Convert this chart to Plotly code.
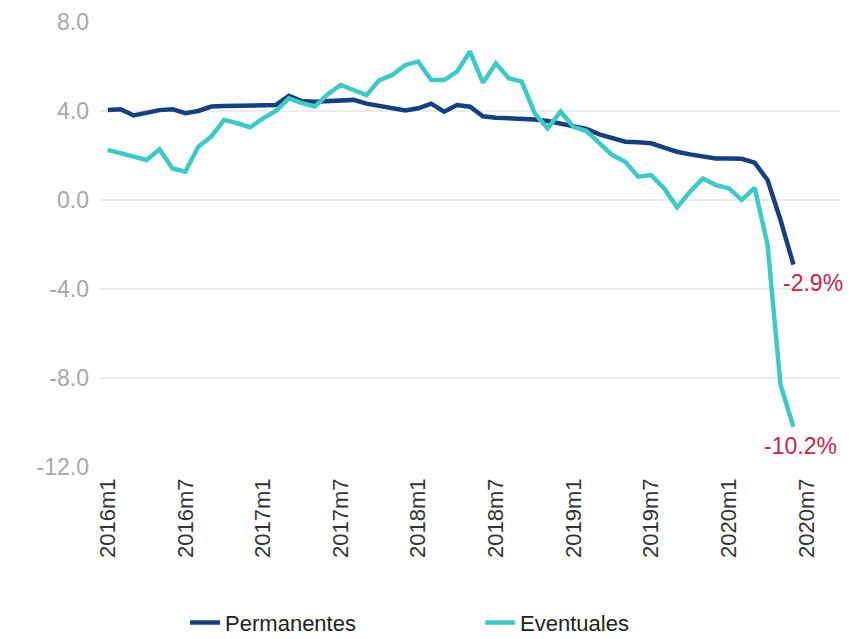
import plotly.graph_objects as go

# Monthly categories 2016m1 .. 2020m12 (axis runs a little past the data)
years = [2016, 2017, 2018, 2019, 2020]
all_months = [f"{y}m{m}" for y in years for m in range(1, 13)]

# Data: 2016m1 .. 2020m6 (54 months)
permanentes = [4.05, 4.08, 3.80, 3.93, 4.04, 4.08, 3.90, 4.00, 4.20, 4.22,
               4.23, 4.24, 4.25, 4.27, 4.68, 4.45, 4.42, 4.43, 4.46, 4.50,
               4.33, 4.22, 4.12, 4.02, 4.12, 4.33, 3.97, 4.27, 4.19, 3.76,
               3.70, 3.68, 3.67, 3.62, 3.55, 3.45, 3.30, 3.20, 2.95, 2.80,
               2.62, 2.60, 2.55, 2.35, 2.17, 2.05, 1.95, 1.87, 1.87, 1.85,
               1.68, 0.90, -0.90, -2.90]
eventuales = [2.25, 2.10, 1.95, 1.80, 2.28, 1.42, 1.27, 2.40, 2.85, 3.60,
              3.45, 3.27, 3.67, 4.00, 4.57, 4.35, 4.20, 4.75, 5.17, 4.94,
              4.72, 5.39, 5.62, 6.07, 6.22, 5.39, 5.39, 5.77, 6.67, 5.27,
              6.14, 5.47, 5.32, 3.90, 3.22, 3.97, 3.29, 3.10, 2.55, 2.02,
              1.72, 1.05, 1.12, 0.53, -0.33, 0.37, 0.97, 0.67, 0.53, 0.00,
              0.55, -2.00, -8.30, -10.20]
months = all_months[:len(permanentes)]

tick_labels = ["2016m1", "2016m7", "2017m1", "2017m7", "2018m1", "2018m7",
               "2019m1", "2019m7", "2020m1", "2020m7"]
y_ticks = [8, 4, 0, -4, -8, -12]

NAVY = "#173F7D"
TURQ = "#40C8C6"
RED = "#C0284E"
FONT = "Liberation Sans, Arial, sans-serif"

fig = go.Figure()
fig.add_trace(go.Scatter(x=months, y=permanentes, mode="lines", name="Permanentes",
                         line=dict(color=NAVY, width=4.5)))
fig.add_trace(go.Scatter(x=months, y=eventuales, mode="lines", name="Eventuales",
                         line=dict(color=TURQ, width=4.5)))

fig.add_annotation(x=months[-1], y=permanentes[-1], text=f"{permanentes[-1]:.1f}%",
                   showarrow=False, xanchor="center", yanchor="middle",
                   xshift=20, yshift=-18, font=dict(color=RED, size=23, family=FONT))
fig.add_annotation(x=months[-1], y=eventuales[-1], text=f"{eventuales[-1]:.1f}%",
                   showarrow=False, xanchor="center", yanchor="middle",
                   xshift=7, yshift=-19, font=dict(color=RED, size=23, family=FONT))

fig.update_layout(
    width=853, height=639,
    margin=dict(l=92, r=21, t=14, b=180, autoexpand=False),
    paper_bgcolor="white", plot_bgcolor="white",
    font=dict(family=FONT),
    showlegend=True,
    legend=dict(orientation="h", x=0.115, y=-0.35, xanchor="left", yanchor="middle",
                font=dict(size=22, color="#222222"), entrywidth=250, entrywidthmode="pixels",
                itemwidth=30),
)
fig.update_xaxes(type="category", categoryorder="array", categoryarray=all_months,
                 range=[-0.6, 56.6], tickmode="array", tickvals=tick_labels,
                 ticktext=tick_labels, tickangle=-90, showgrid=False, zeroline=False,
                 showline=False, ticks="", ticklabelstandoff=6, automargin=False,
                 tickfont=dict(size=22, color="#333333", family=FONT))
fig.update_yaxes(range=[-12, 8], tickmode="array", tickvals=y_ticks,
                 ticktext=[f"{v:.1f}" for v in y_ticks], showgrid=True,
                 gridcolor="#EBEBEB", gridwidth=1.5, zeroline=False, showline=False,
                 ticks="", ticklabelstandoff=10, automargin=False,
                 tickfont=dict(size=23, color="#A8A8A8", family=FONT))

fig.write_html("out.html")
